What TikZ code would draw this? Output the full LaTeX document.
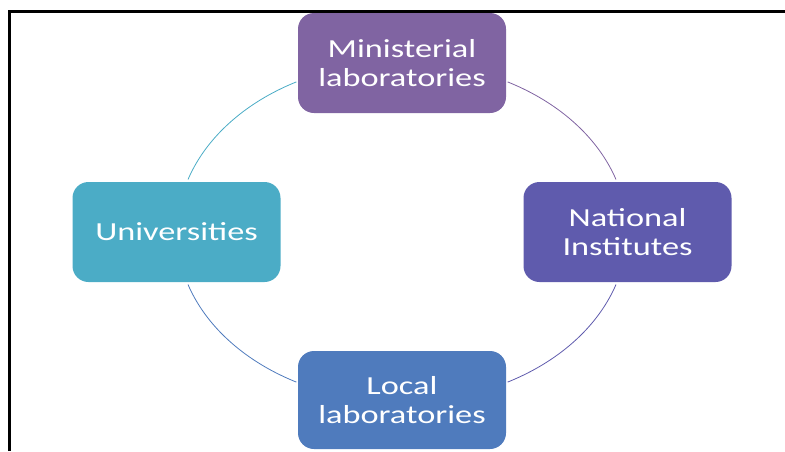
\documentclass[tikz,border=0pt]{standalone}
\usepackage{fontspec}
\setmainfont{Carlito}[FakeStretch=1.32]
\definecolor{cMin}{HTML}{8064A2}
\definecolor{cNat}{HTML}{5F5BAD}
\definecolor{cLoc}{HTML}{4F7BBD}
\definecolor{cUni}{HTML}{4BACC6}
\begin{document}
\begin{tikzpicture}[x=1pt,y=-1pt,
  box/.style={rounded corners=16pt, minimum width=208pt, minimum height=100pt,
    text=white, align=center, inner sep=0pt,
    font=\fontsize{26}{28.5}\selectfont},
  ring/.style={line width=0.8pt}]
\useasboundingbox (0,0) rectangle (785,451);
\node[box, fill=cMin] (min) at (402,63) {Ministerial\\laboratories};
\node[box, fill=cNat] (nat) at (627.5,232) {National\\Institutes};
\node[box, fill=cLoc, minimum height=98pt] (loc) at (402,400) {Local\\laboratories};
\node[box, fill=cUni] (uni) at (176.5,232) {Universities};
\draw[ring, cUni] plot[domain=118:162, samples=40] ({402+225*cos(\x)}, {232-170*sin(\x)});
\draw[ring, cMin] plot[domain=62:18, samples=40] ({402+225*cos(\x)}, {232-170*sin(\x)});
\draw[ring, cNat] plot[domain=-18:-62, samples=40] ({402+225*cos(\x)}, {232-170*sin(\x)});
\draw[ring, cLoc] plot[domain=-162:-118, samples=40] ({402+225*cos(\x)}, {232-170*sin(\x)});
\coordinate (fa) at (9.5,451);
\coordinate (fb) at (9.5,11);
\coordinate (fc) at (785,11);
\draw[line width=3pt] (fa) -- (fb) -- (fc);
\end{tikzpicture}
\end{document}
